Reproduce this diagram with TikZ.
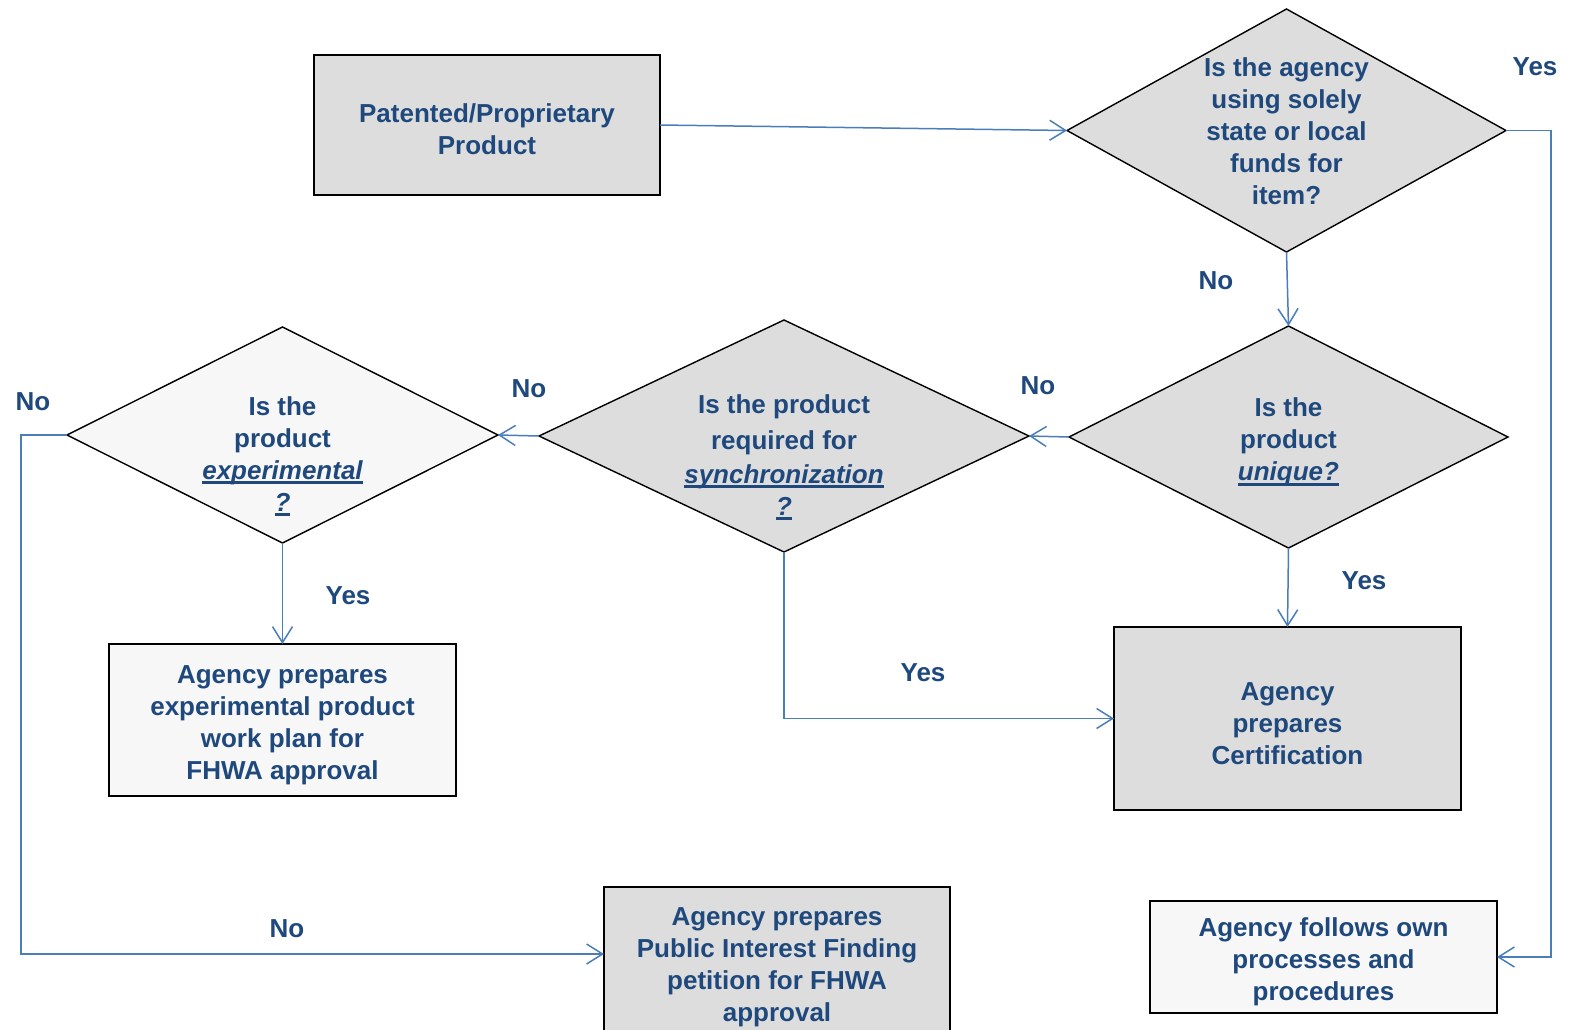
\documentclass[tikz,border=0pt]{standalone}
\usepackage{fontspec}
\setmainfont{Liberation Sans}
\usetikzlibrary{shapes.geometric,arrows.meta}
\definecolor{txt}{HTML}{1F497D}
\definecolor{conncol}{HTML}{4A7EBB}
\definecolor{gfill}{HTML}{DDDDDD}
\definecolor{lfill}{HTML}{F7F7F7}
\newcommand{\myul}[1]{\leavevmode\setbox0=\hbox{#1}\rlap{\vrule height -2.2pt depth 4.8pt width \wd0}\box0}
\newcommand{\topstrut}{\rule{0pt}{28pt}}
\begin{document}
\begin{tikzpicture}[x=1pt,y=-1pt,
  every node/.style={font=\fontsize{26}{32}\selectfont\bfseries, text=txt},
  box/.style={draw=black, line width=1.6pt, rectangle, align=center, inner sep=0pt, outer sep=0pt},
  dia/.style={draw=black, line width=1.4pt, diamond, inner sep=0pt, outer sep=0pt},
  qtext/.style={align=center, inner sep=0pt},
  conn/.style={draw=conncol, line width=1.5pt, -{Straight Barb[length=16pt,width=20pt,line width=1.5pt]}},
  lbl/.style={inner sep=0pt}]
\useasboundingbox (0,0) rectangle (1575,1029);
\clip (0,0) rectangle (1575,1029);
\fill[white] (0,0) rectangle (1575,1029);

% boxes
\node[box, fill=gfill, minimum width=346pt, minimum height=140pt] (P) at (487,125) {\topstrut Patented/Proprietary\\Product};
\node[box, fill=lfill, minimum width=347pt, minimum height=152pt] (Exp) at (282.5,720) {\topstrut Agency prepares\\experimental product\\work plan for\\FHWA approval};
\node[box, fill=gfill, minimum width=347pt, minimum height=183pt] (Cert) at (1287.5,718.5) {\topstrut Agency\\prepares\\Certification};
\node[box, fill=gfill, minimum width=346pt, minimum height=150pt] (PIF) at (777,962) {\topstrut Agency prepares\\Public Interest Finding\\petition for FHWA\\approval};
\node[box, fill=lfill, minimum width=347pt, minimum height=112pt] (Own) at (1323.5,957) {\topstrut Agency follows own\\processes and\\procedures};

% diamonds
\node[dia, fill=gfill, minimum width=439pt, minimum height=243pt] (D1) at (1286.5,130.5) {};
\node[qtext] (D1t) at (1286.5,131) {Is the agency\\using solely\\state or local\\funds for\\item?};
\node[dia, fill=gfill, minimum width=439pt, minimum height=222pt] (D2) at (1288.5,437) {};
\node[qtext] (D2t) at (1288.5,442) {Is the\\product\\\myul{\itshape unique?}};
\node[dia, fill=gfill, minimum width=490pt, minimum height=232pt] (D3) at (784,436) {};
\node[qtext] (D3t) at (784,457) {Is the product\\[4pt]required for\\[2pt]\myul{\itshape synchronization}\\\myul{\itshape ?}};
\node[dia, fill=lfill, minimum width=431pt, minimum height=216pt] (D4) at (282.5,435) {};
\node[qtext] (D4t) at (282.5,456) {Is the\\product\\\myul{\itshape experimental}\\\myul{\itshape ?}};

% connectors
\draw[conn] (P.east) -- (D1.west);
\draw[conn] (D1.east) -- ++(45,0) |- (Own.east);
\draw[conn] (D1.south) -- (D2.north);
\draw[conn] (D2.west) -- (D3.east);
\draw[conn] (D2.south) -- (Cert.north);
\draw[conn] (D3.west) -- (D4.east);
\draw[conn] (D3.south) |- (Cert.west);
\draw[conn] (D4.south) -- (Exp.north);
\draw[conn] (D4.west) -- ++(-46,0) |- ([yshift=8pt]PIF.west);

% labels
\node[lbl] (l1) at (1535,67) {Yes};
\node[lbl] (l2) at (1216,281) {No};
\node[lbl] (l3) at (1038,386) {No};
\node[lbl] (l4) at (1364,581) {Yes};
\node[lbl] (l5) at (529,389) {No};
\node[lbl] (l6) at (923,673) {Yes};
\node[lbl] (l7) at (348,596) {Yes};
\node[lbl] (l8) at (33,402) {No};
\node[lbl] (l9) at (287,929) {No};
\end{tikzpicture}
\end{document}
